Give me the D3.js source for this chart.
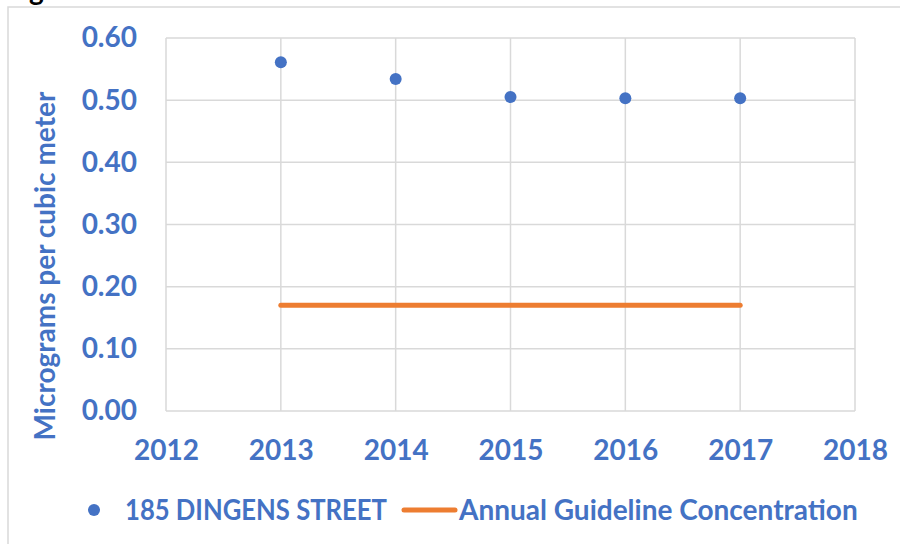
<!DOCTYPE html>
<html>
<head>
<meta charset="utf-8">
<script src="https://cdn.jsdelivr.net/npm/d3@7"></script>
<style>
  body { margin: 0; background: #fff; }
  text { font-family: Lato, "Open Sans", sans-serif; font-weight: bold; }
</style>
</head>
<body>
<div id="chart"></div>
<script>
// data
const years = [ 2013, 2014, 2015, 2016, 2017 ];
const dingens = [ 0.561, 0.534, 0.505, 0.503, 0.503 ];
const guideline = [ 0.17, 0.17, 0.17, 0.17, 0.17 ];
const xTicks = [ 2012, 2013, 2014, 2015, 2016, 2017, 2018 ];
const yTicks = [ 0, 0.1, 0.2, 0.3, 0.4, 0.5, 0.6 ];
const seriesNames = [ "185 DINGENS STREET", "Annual Guideline Concentration" ];

const W = 900, H = 544;
const blue = "#4472C4", orange = "#ED7D31", grid = "#d9d9d9";
const fs = 28;

let svg = d3.select( "#chart" ).append( "svg" )
	.attr( "width", W ).attr( "height", H );

// outer chart border, partly off the page
svg.append( "rect" )
	.attr( "x", 8 ).attr( "y", 7 )
	.attr( "width", 1000 ).attr( "height", 600 )
	.attr( "fill", "none" ).attr( "stroke", grid ).attr( "stroke-width", 1.5 );

// clipped figure caption above the chart (only its descender shows)
svg.append( "text" )
	.attr( "x", 29 ).attr( "y", 0 )
	.attr( "font-size", fs ).attr( "fill", "#000" )
	.text( "g" );

let x = d3.scaleLinear().domain( [ 2012, 2018 ] ).range( [ 166, 855 ] );
let y = d3.scaleLinear().domain( [ 0, 0.6 ] ).range( [ 411, 38 ] );

// grid
svg.append( "g" ).selectAll( "line" )
	.data( yTicks ).join( "line" )
		.attr( "x1", x( 2012 ) ).attr( "x2", x( 2018 ) )
		.attr( "y1", d => y( d ) ).attr( "y2", d => y( d ) )
		.attr( "stroke", grid ).attr( "stroke-width", 1.5 );

svg.append( "g" ).selectAll( "line" )
	.data( xTicks ).join( "line" )
		.attr( "x1", d => x( d ) ).attr( "x2", d => x( d ) )
		.attr( "y1", y( 0 ) ).attr( "y2", y( 0.6 ) )
		.attr( "stroke", grid ).attr( "stroke-width", 1.5 );

// axes labels
let yAxis = svg.append( "g" )
	.attr( "transform", `translate(${ x( 2012 ) },0)` )
	.call( d3.axisLeft( y ).tickValues( yTicks ).tickFormat( d3.format( ".2f" ) ).tickSize( 0 ).tickPadding( 29 ) );
yAxis.select( ".domain" ).remove();
yAxis.selectAll( "text" ).attr( "fill", blue ).attr( "font-size", fs )
	.style( "font-family", "Lato, sans-serif" ).style( "font-weight", "bold" );

let xAxis = svg.append( "g" )
	.attr( "transform", `translate(0,${ y( 0 ) })` )
	.call( d3.axisBottom( x ).tickValues( xTicks ).tickFormat( d3.format( "d" ) ).tickSize( 0 ).tickPadding( 29 ) );
xAxis.select( ".domain" ).remove();
xAxis.selectAll( "text" ).attr( "fill", blue ).attr( "font-size", fs )
	.style( "font-family", "Lato, sans-serif" ).style( "font-weight", "bold" );

svg.append( "text" )
	.attr( "transform", `translate(55,${ 266 }) rotate(-90)` )
	.attr( "text-anchor", "middle" )
	.attr( "fill", blue ).attr( "font-size", fs )
	.text( "Micrograms per cubic meter" );

// guideline
let line = d3.line().x( ( d, i ) => x( years[ i ] ) ).y( d => y( d ) );
svg.append( "path" )
	.datum( guideline )
	.attr( "d", line )
	.attr( "fill", "none" ).attr( "stroke", orange )
	.attr( "stroke-width", 5 ).attr( "stroke-linecap", "round" );

// points
svg.append( "g" ).selectAll( "circle" )
	.data( dingens ).join( "circle" )
		.attr( "cx", ( d, i ) => x( years[ i ] ) )
		.attr( "cy", d => y( d ) )
		.attr( "r", 6 )
		.attr( "fill", blue );

// legend
let lg = svg.append( "g" ).attr( "transform", "translate(0,510)" );
lg.append( "circle" ).attr( "cx", 94 ).attr( "cy", 0 ).attr( "r", 6 ).attr( "fill", blue );
lg.append( "text" ).attr( "x", 125 ).attr( "dy", "0.36em" )
	.attr( "textLength", 262 ).attr( "lengthAdjust", "spacingAndGlyphs" )
	.attr( "fill", blue ).attr( "font-size", fs ).text( seriesNames[ 0 ] );
lg.append( "line" ).attr( "x1", 404 ).attr( "x2", 455 ).attr( "y1", 0 ).attr( "y2", 0 )
	.attr( "stroke", orange ).attr( "stroke-width", 5 ).attr( "stroke-linecap", "round" );
lg.append( "text" ).attr( "x", 459 ).attr( "dy", "0.36em" )
	.attr( "fill", blue ).attr( "font-size", fs ).text( seriesNames[ 1 ] );
</script>
</body>
</html>
